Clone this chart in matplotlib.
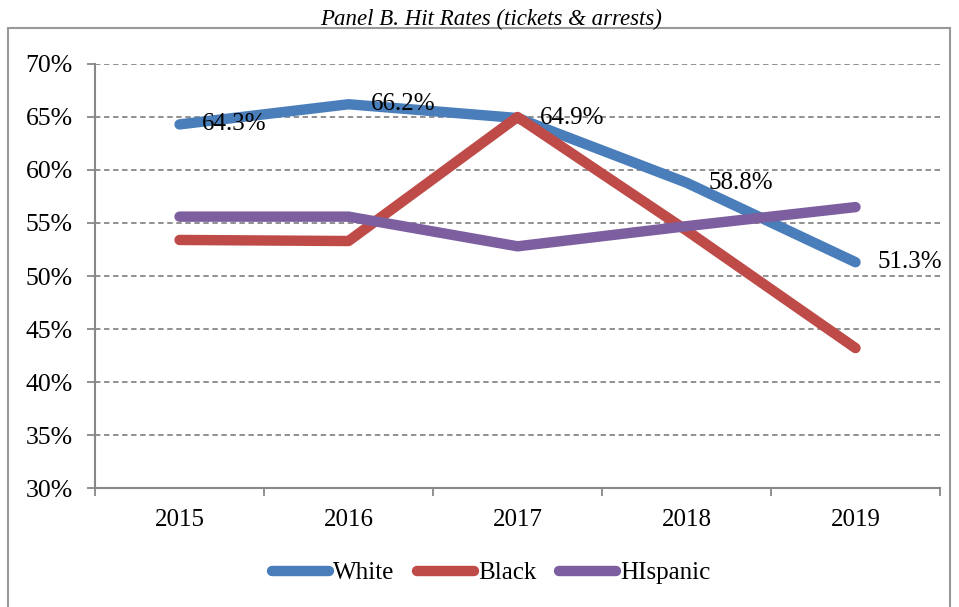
import numpy as np
import matplotlib
matplotlib.use("Agg")
import matplotlib.pyplot as plt
from matplotlib.patches import Rectangle
from matplotlib.ticker import FuncFormatter, FixedLocator

# === DATA ===
years = ["2015", "2016", "2017", "2018", "2019"]
white = [64.3, 66.2, 64.9, 58.8, 51.3]
black = [53.4, 53.3, 65.0, 54.3, 43.2]
hispanic = [55.6, 55.6, 52.8, 54.7, 56.5]
white_labels = ["64.3%", "66.2%", "64.9%", "58.8%", "51.3%"]

plt.rcParams['font.family'] = ['Liberation Serif', 'DejaVu Serif']

fig = plt.figure(figsize=(9.59, 6.07), dpi=100)
ax = fig.add_axes([0.0991, 0.196, 0.8811, 0.6986])

x = np.arange(len(years))
lw = 7.5
ax.plot(x, white, color='#4A7EBB', lw=lw, solid_capstyle='round', solid_joinstyle='round', label='White', zorder=3)
ax.plot(x, black, color='#BE4B48', lw=lw, solid_capstyle='round', solid_joinstyle='round', label='Black', zorder=3)
ax.plot(x, hispanic, color='#7D5FA0', lw=lw, solid_capstyle='round', solid_joinstyle='round', label='HIspanic', zorder=3)

# data labels for White, to the right of each point
for xi, yi, txt in zip(x, white, white_labels):
    ax.annotate(txt, (xi, yi), xytext=(16, 0), textcoords='offset points',
                ha='left', va='center', fontsize=18, color='black', zorder=4)

ax.set_xlim(-0.5, len(years) - 0.5)
ax.set_ylim(30, 70)
ax.yaxis.set_major_locator(FixedLocator(np.arange(30, 71, 5)))
ax.yaxis.set_major_formatter(FuncFormatter(lambda v, p: f"{v:.0f}%"))
ax.set_xticks(x)
ax.set_xticklabels(years)
ax.set_xticks(np.arange(-0.5, len(years)), minor=True)
ax.tick_params(axis='x', which='major', length=0, pad=15, labelsize=18)
ax.tick_params(axis='x', which='minor', length=6, color='#888888', width=1.3)
ax.tick_params(axis='y', length=6, color='#888888', width=1.3, labelsize=18.5, pad=10)

ax.grid(axis='y', color='#888888', ls=(0, (3, 2)), lw=1.3, zorder=0)
for s in ['top', 'right']:
    ax.spines[s].set_visible(False)
for s in ['left', 'bottom']:
    ax.spines[s].set_color('#888888')
    ax.spines[s].set_linewidth(1.5)

# title
fig.text(0.512, 0.968, "Panel B. Hit Rates (tickets & arrests)", ha='center', va='center',
         fontsize=16.5, style='italic')

# outer border
fig.patches.append(Rectangle((8 / 959, -0.01), 942 / 959, 1.01 - 28 / 607,
                             transform=fig.transFigure, fill=False,
                             edgecolor='#999999', lw=1.5))

leg = fig.legend(loc='center', bbox_to_anchor=(0.512, 1 - 573 / 607), ncol=3,
                 frameon=False, fontsize=18, handlelength=2.3, handletextpad=0.15,
                 columnspacing=0.9)
for h in leg.get_lines():
    h.set_solid_capstyle('round')

fig.savefig("out.png", dpi=100)
